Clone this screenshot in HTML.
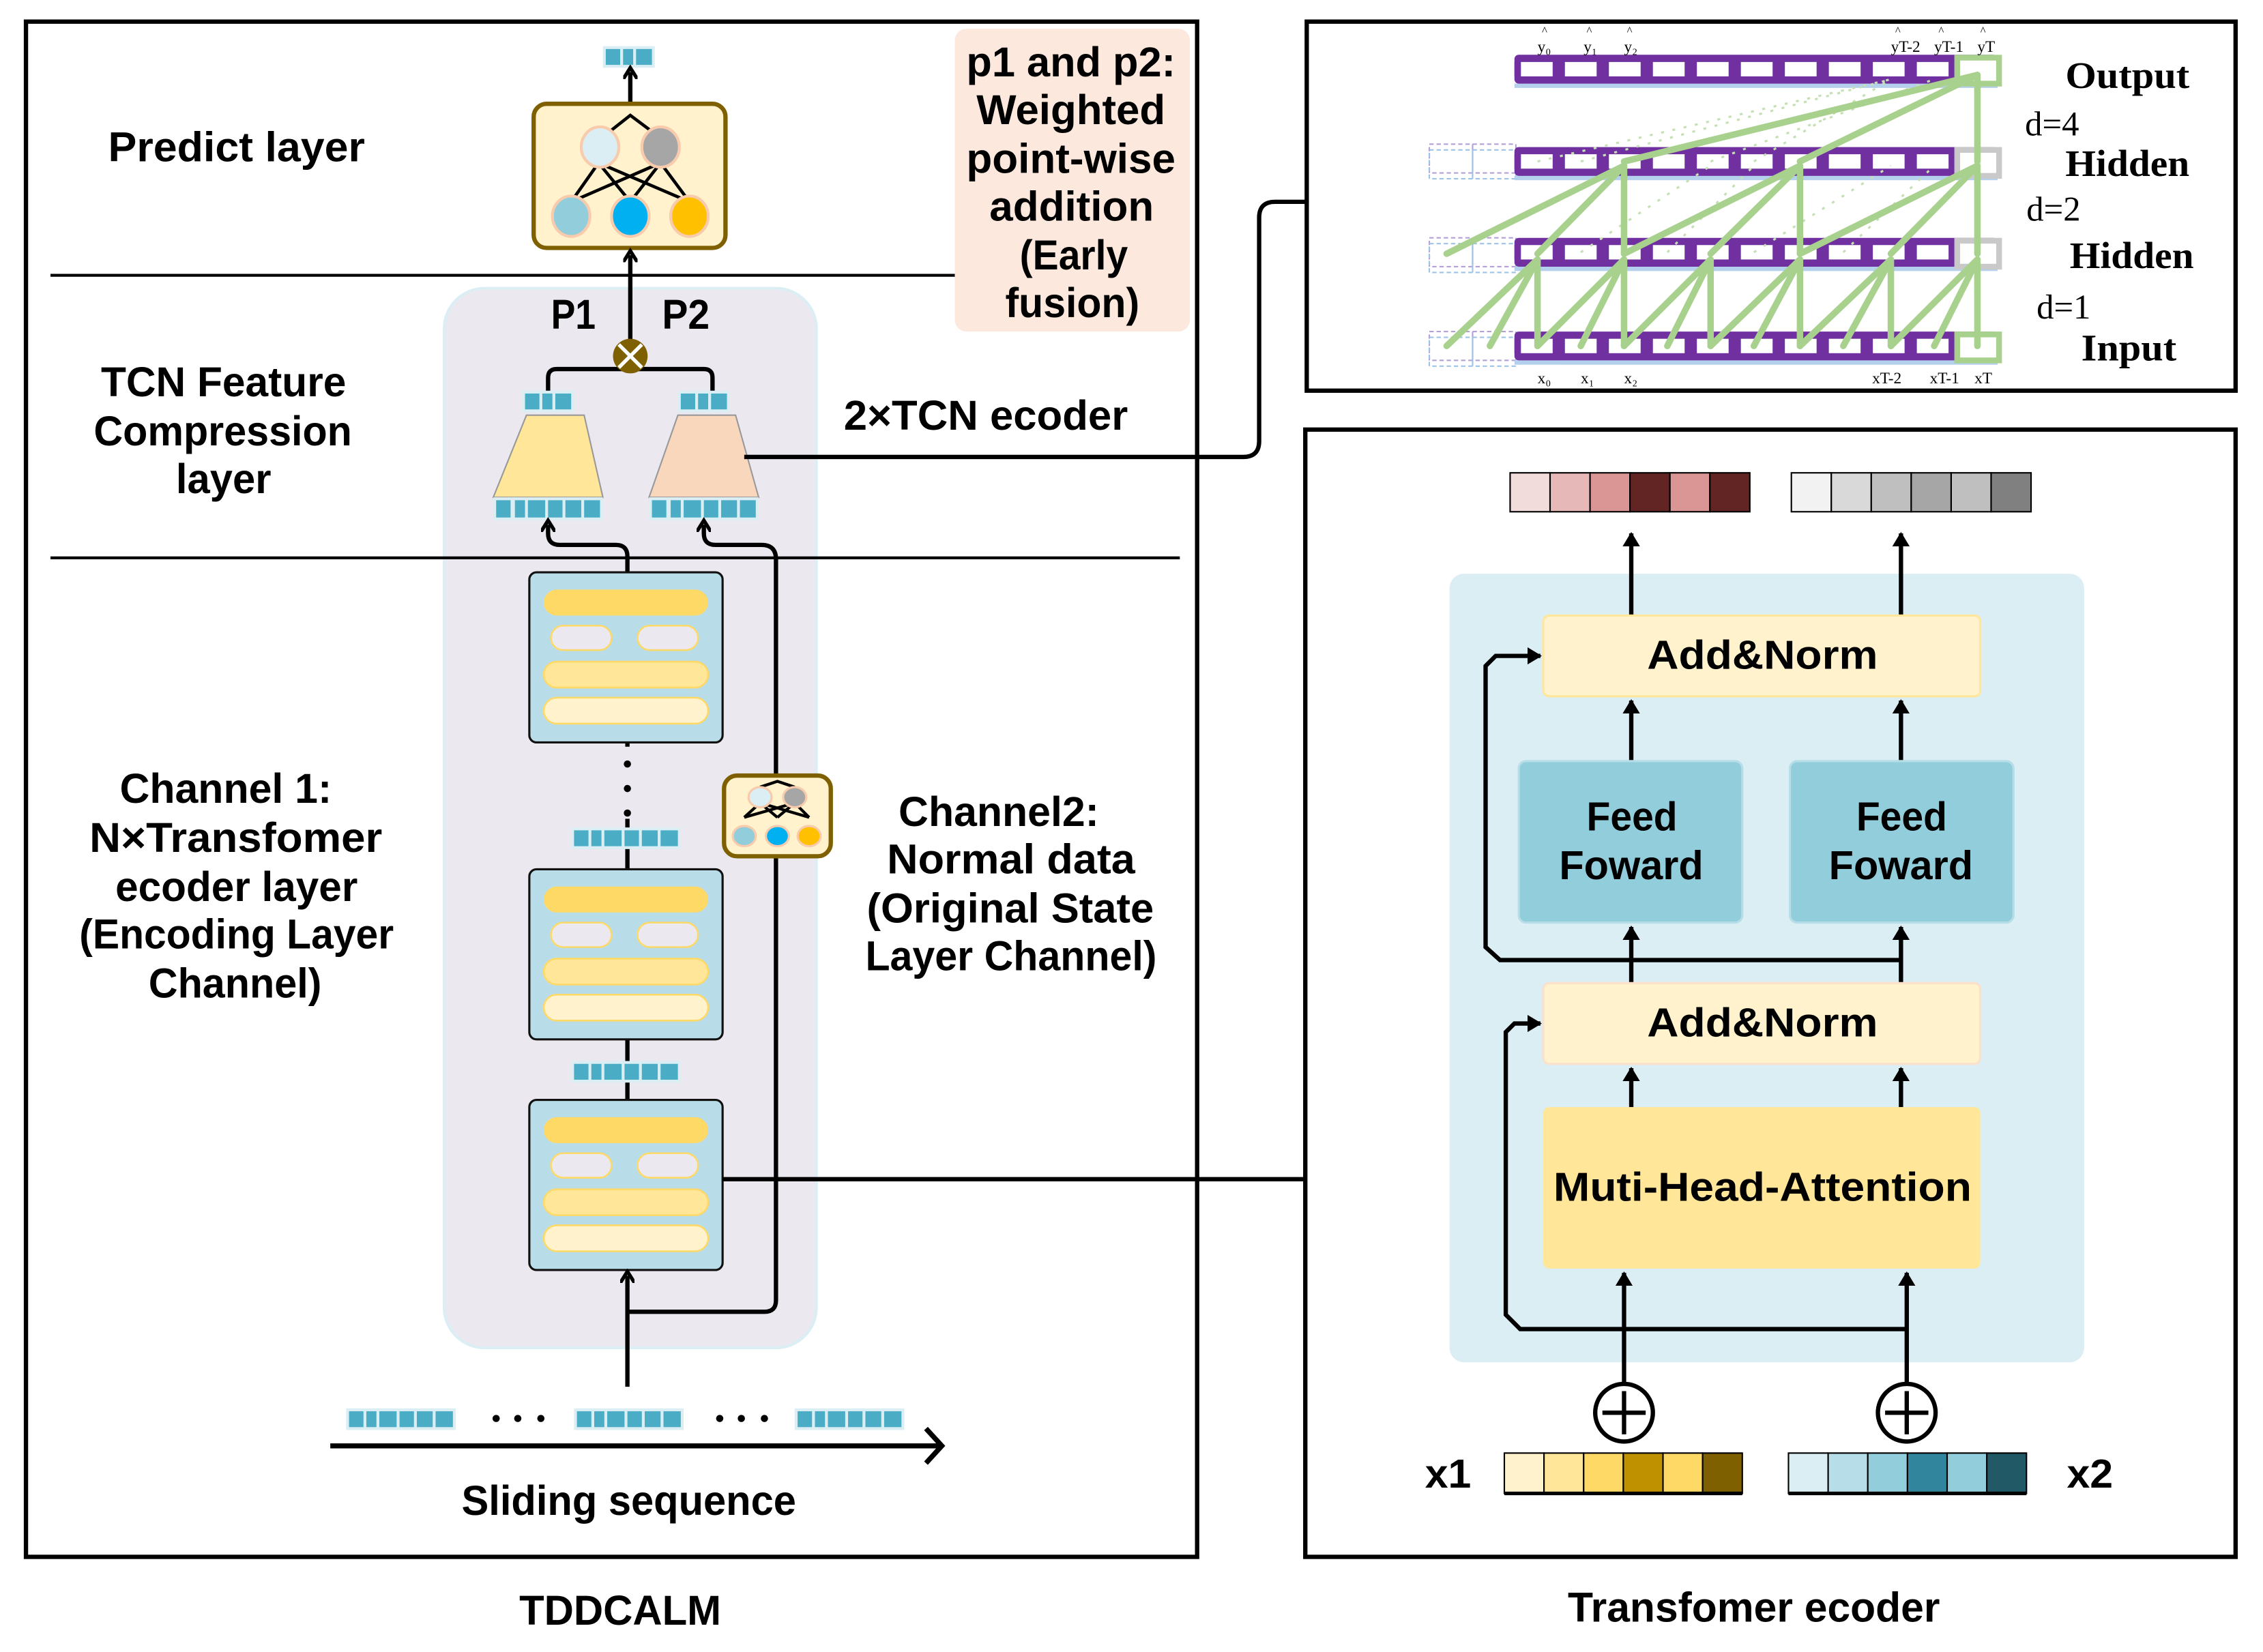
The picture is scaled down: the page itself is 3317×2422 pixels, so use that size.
<!DOCTYPE html>
<html><head><meta charset="utf-8"><style>html,body{margin:0;padding:0;background:#fff}svg{display:block}</style></head>
<body>
<svg width="3317" height="2422" viewBox="0 0 1569 1146" preserveAspectRatio="none" xmlns="http://www.w3.org/2000/svg" font-family="Liberation Sans, sans-serif" font-weight="bold">
<defs>
<marker id="ah" markerWidth="10" markerHeight="10" refX="5" refY="5" orient="auto" markerUnits="userSpaceOnUse"><path d="M0,0 L8,5 L0,10" fill="none" stroke="#000" stroke-width="2.5"/></marker>
<marker id="at" markerWidth="12" markerHeight="12" refX="9" refY="6" orient="auto" markerUnits="userSpaceOnUse"><path d="M0,0 L10,6 L0,12 Z" fill="#000"/></marker>
<pattern id="cells" x="1050" y="0" width="30.5" height="300" patternUnits="userSpaceOnUse"><rect width="30.5" height="300" fill="#7030a0"/><rect x="4.5" width="22" height="300" fill="#fff"/></pattern>
<g id="enc">
<rect x="0" y="0" width="134" height="118" rx="5" fill="#b8dde8" stroke="#111" stroke-width="1.5"/>
<rect x="10" y="12" width="114" height="18" rx="9" fill="#ffd966"/>
<rect x="15" y="37" width="42" height="17" rx="8.5" fill="#ebe8f0" stroke="#ffd966" stroke-width="1.2"/>
<rect x="75" y="37" width="42" height="17" rx="8.5" fill="#ebe8f0" stroke="#ffd966" stroke-width="1.2"/>
<rect x="10" y="62" width="114" height="18" rx="9" fill="#ffe699" stroke="#ffd966" stroke-width="1.2"/>
<rect x="10" y="87" width="114" height="18" rx="9" fill="#fff2cc" stroke="#ffd966" stroke-width="1.2"/>
</g>
<g id="blk6">
<rect x="0" y="0" width="76" height="15" fill="#dbeef4"/>
<rect x="2" y="2" width="10" height="11" fill="#4bacc6"/><rect x="14" y="2" width="7" height="11" fill="#4bacc6"/><rect x="23" y="2" width="12" height="11" fill="#4bacc6"/><rect x="37" y="2" width="10" height="11" fill="#4bacc6"/><rect x="49" y="2" width="11" height="11" fill="#4bacc6"/><rect x="62" y="2" width="12" height="11" fill="#4bacc6"/>
</g>
<g id="blk3">
<rect x="0" y="0" width="36" height="15" fill="#dbeef4"/>
<rect x="2" y="2" width="10" height="11" fill="#4bacc6"/><rect x="14" y="2" width="7" height="11" fill="#4bacc6"/><rect x="23" y="2" width="11" height="11" fill="#4bacc6"/>
</g>
</defs>

<!-- LEFT PANEL -->
<rect x="18" y="15" width="812" height="1065" fill="#fff" stroke="#000" stroke-width="3"/>
<rect x="308" y="200" width="258" height="735" rx="28" fill="#ebe8f0" stroke="#dbeef4" stroke-width="2"/>
<line x1="35" y1="191" x2="662" y2="191" stroke="#000" stroke-width="2"/>
<line x1="35" y1="387" x2="818" y2="387" stroke="#000" stroke-width="2"/>
<rect x="662" y="20" width="163" height="210" rx="8" fill="#fce8dc"/>
<g font-size="29" text-anchor="start">
<text x="670" y="53" textLength="145" lengthAdjust="spacingAndGlyphs">p1 and p2:</text>
<text x="677" y="86" textLength="131" lengthAdjust="spacingAndGlyphs">Weighted</text>
<text x="670" y="120" textLength="145" lengthAdjust="spacingAndGlyphs">point-wise</text>
<text x="686" y="153" textLength="114" lengthAdjust="spacingAndGlyphs">addition</text>
<text x="707" y="187" textLength="75" lengthAdjust="spacingAndGlyphs">(Early</text>
<text x="697" y="220" textLength="93" lengthAdjust="spacingAndGlyphs">fusion)</text>
<text x="75" y="112" textLength="178" lengthAdjust="spacingAndGlyphs">Predict  layer</text>
<text x="70" y="275" textLength="170" lengthAdjust="spacingAndGlyphs">TCN Feature</text>
<text x="65" y="309" textLength="179" lengthAdjust="spacingAndGlyphs">Compression</text>
<text x="122" y="342" textLength="66" lengthAdjust="spacingAndGlyphs">layer</text>
<text x="585" y="298" textLength="197" lengthAdjust="spacingAndGlyphs">2×TCN ecoder</text>
<text x="382" y="228" textLength="31" lengthAdjust="spacingAndGlyphs">P1</text>
<text x="459" y="228" textLength="33" lengthAdjust="spacingAndGlyphs">P2</text>
<text x="83" y="557" textLength="147" lengthAdjust="spacingAndGlyphs">Channel 1:</text>
<text x="62" y="591" textLength="203" lengthAdjust="spacingAndGlyphs">N×Transfomer</text>
<text x="80" y="625" textLength="168" lengthAdjust="spacingAndGlyphs">ecoder layer</text>
<text x="55" y="658" textLength="218" lengthAdjust="spacingAndGlyphs">(Encoding Layer</text>
<text x="103" y="692" textLength="120" lengthAdjust="spacingAndGlyphs">Channel)</text>
<text x="623" y="573" textLength="139" lengthAdjust="spacingAndGlyphs">Channel2:</text>
<text x="615" y="606" textLength="172" lengthAdjust="spacingAndGlyphs">Normal data</text>
<text x="601" y="640" textLength="199" lengthAdjust="spacingAndGlyphs">(Original State</text>
<text x="600" y="673" textLength="202" lengthAdjust="spacingAndGlyphs">Layer Channel)</text>
<text x="320" y="1051" textLength="232" lengthAdjust="spacingAndGlyphs">Sliding sequence</text>
<text x="360" y="1127" textLength="140" lengthAdjust="spacingAndGlyphs">TDDCALM</text>
<text x="1087" y="1125" textLength="258" lengthAdjust="spacingAndGlyphs">Transfomer ecoder</text>
</g>

<use href="#blk3" x="418" y="32"/>
<line x1="437" y1="72" x2="437" y2="50" stroke="#000" stroke-width="3" marker-end="url(#ah)"/>
<rect x="370" y="72" width="133" height="100" rx="9" fill="#fff2cc" stroke="#7f6000" stroke-width="3"/>
<g stroke="#000" stroke-width="2.2" fill="none">
<path d="M418,95 L437,80 L457,95"/>
<path d="M415,113 L396,140 M415,113 L437,140 M415,113 L478,140 M458,113 L396,140 M458,113 L437,140 M458,113 L478,140"/>
</g>
<ellipse cx="416" cy="102" rx="13" ry="14" fill="#daeef3" stroke="#f8cbad" stroke-width="2"/>
<ellipse cx="458" cy="102" rx="13" ry="14" fill="#a6a6a6" stroke="#f8cbad" stroke-width="2"/>
<ellipse cx="396" cy="150" rx="13" ry="14" fill="#92cddc" stroke="#f8cbad" stroke-width="2"/>
<ellipse cx="437" cy="150" rx="13" ry="14" fill="#00b0f0" stroke="#f8cbad" stroke-width="2"/>
<ellipse cx="478" cy="150" rx="13" ry="14" fill="#ffc000" stroke="#f8cbad" stroke-width="2"/>

<line x1="437" y1="236" x2="437" y2="177" stroke="#000" stroke-width="3" marker-end="url(#ah)"/>
<path d="M380,272 V262 Q380,256 386,256 H488 Q494,256 494,262 V272" fill="none" stroke="#000" stroke-width="3"/>
<circle cx="437" cy="247" r="12" fill="#7f6000"/>
<path d="M429,239 L445,255 M445,239 L429,255" stroke="#fff" stroke-width="2.5"/>

<use href="#blk3" x="362" y="271"/>
<use href="#blk3" x="470" y="271"/>
<polygon points="365,288 405,288 418,345 342,345" fill="#ffe699" stroke="#999" stroke-width="1"/>
<polygon points="470,288 510,288 526,345 450,345" fill="#f8d7bd" stroke="#999" stroke-width="1"/>
<rect x="342" y="345" width="76" height="16" fill="#dbeef4"/>
<rect x="450" y="345" width="76" height="16" fill="#dbeef4"/>
<g fill="#4bacc6">
<rect x="344" y="347" width="10" height="12"/><rect x="357" y="347" width="7" height="12"/><rect x="366" y="347" width="12" height="12"/><rect x="380" y="347" width="10" height="12"/><rect x="392" y="347" width="11" height="12"/><rect x="405" y="347" width="11" height="12"/>
<rect x="452" y="347" width="10" height="12"/><rect x="465" y="347" width="7" height="12"/><rect x="474" y="347" width="12" height="12"/><rect x="488" y="347" width="10" height="12"/><rect x="500" y="347" width="11" height="12"/><rect x="513" y="347" width="11" height="12"/>
</g>
<path d="M516,317 H862 Q873,317 873,306 V151 Q873,140 884,140 H906" fill="none" stroke="#000" stroke-width="3"/>

<path d="M435,397 V386 Q435,378 427,378 H388 Q380,378 380,370 V364" fill="none" stroke="#000" stroke-width="3" marker-end="url(#ah)"/>
<path d="M435,910 H530 Q538,910 538,902 V388 Q538,378 528,378 H496 Q488,378 488,370 V364" fill="none" stroke="#000" stroke-width="3" marker-end="url(#ah)"/>
<line x1="435" y1="515" x2="435" y2="603" stroke="#000" stroke-width="3"/>
<line x1="435" y1="721" x2="435" y2="763" stroke="#000" stroke-width="3"/>
<use href="#enc" x="367" y="397"/>
<use href="#enc" x="367" y="603"/>
<use href="#enc" x="367" y="763"/>
<rect x="410" y="518" width="50" height="50" fill="#ebe8f0"/>
<circle cx="435" cy="530" r="2.5" fill="#000"/><circle cx="435" cy="547" r="2.5" fill="#000"/><circle cx="435" cy="564" r="2.5" fill="#000"/>
<use href="#blk6" x="396" y="574"/>
<use href="#blk6" x="396" y="736"/>
<line x1="435" y1="962" x2="435" y2="885" stroke="#000" stroke-width="3" marker-end="url(#ah)"/>

<rect x="502" y="538" width="74" height="56" rx="9" fill="#fff2cc" stroke="#7f6000" stroke-width="3"/>
<g stroke="#000" stroke-width="2" fill="none"><path d="M527,546 L539,542 L551,546 M527,557 L516,567 M527,557 L539,567 M527,557 L561,567 M551,557 L516,567 M551,557 L539,567 M551,557 L561,567"/></g>
<ellipse cx="527" cy="553" rx="8" ry="7" fill="#daeef3" stroke="#f8cbad" stroke-width="1.5"/>
<ellipse cx="551" cy="553" rx="8" ry="7" fill="#a6a6a6" stroke="#f8cbad" stroke-width="1.5"/>
<ellipse cx="516" cy="580" rx="8" ry="7" fill="#92cddc" stroke="#f8cbad" stroke-width="1.5"/>
<ellipse cx="539" cy="580" rx="8" ry="7" fill="#00b0f0" stroke="#f8cbad" stroke-width="1.5"/>
<ellipse cx="561" cy="580" rx="8" ry="7" fill="#ffc000" stroke="#f8cbad" stroke-width="1.5"/>

<path d="M501,818 H944 Q954,818 954,808 V657 Q954,647 964,647 H1005" fill="none" stroke="#000" stroke-width="3"/>

<use href="#blk6" x="240" y="977"/>
<use href="#blk6" x="398" y="977"/>
<use href="#blk6" x="551" y="977"/>
<g fill="#000"><circle cx="344" cy="984" r="2.5"/><circle cx="359" cy="984" r="2.5"/><circle cx="375" cy="984" r="2.5"/><circle cx="499" cy="984" r="2.5"/><circle cx="514" cy="984" r="2.5"/><circle cx="530" cy="984" r="2.5"/></g>
<line x1="229" y1="1003" x2="652" y2="1003" stroke="#000" stroke-width="3.5"/>
<path d="M642,991 L653,1003 L642,1015" fill="none" stroke="#000" stroke-width="3.5"/>

<!-- TCN PANEL -->
<rect x="906" y="15" width="644" height="256" fill="#fff" stroke="#000" stroke-width="3"/>
<g fill="none" stroke-width="1" stroke-dasharray="3,2">
<rect x="991" y="100" width="30" height="20" stroke="#b4a0d8"/><rect x="1021" y="100" width="30" height="20" stroke="#b4a0d8"/>
<rect x="991" y="104" width="30" height="20" stroke="#9dc3e6"/><rect x="1021" y="104" width="30" height="20" stroke="#9dc3e6"/>
<rect x="991" y="165" width="30" height="20" stroke="#b4a0d8"/><rect x="1021" y="165" width="30" height="20" stroke="#b4a0d8"/>
<rect x="991" y="169" width="30" height="20" stroke="#9dc3e6"/><rect x="1021" y="169" width="30" height="20" stroke="#9dc3e6"/>
<rect x="991" y="230" width="30" height="20" stroke="#b4a0d8"/><rect x="1021" y="230" width="30" height="20" stroke="#b4a0d8"/>
<rect x="991" y="234" width="30" height="20" stroke="#9dc3e6"/><rect x="1021" y="234" width="30" height="20" stroke="#9dc3e6"/>
</g>
<g>
<rect x="1050" y="58" width="335" height="3" fill="#b4d0ec"/>
<rect x="1050" y="38" width="335" height="20" rx="3" fill="#7030a0"/>
<rect x="1050" y="43" width="335" height="10" fill="url(#cells)"/>
<rect x="1050" y="122" width="335" height="3" fill="#b4d0ec"/>
<rect x="1050" y="102" width="335" height="20" rx="3" fill="#7030a0"/>
<rect x="1050" y="107" width="335" height="10" fill="url(#cells)"/>
<rect x="1050" y="185" width="335" height="3" fill="#b4d0ec"/>
<rect x="1050" y="165" width="335" height="20" rx="3" fill="#7030a0"/>
<rect x="1050" y="170" width="335" height="10" fill="url(#cells)"/>
<rect x="1050" y="250" width="335" height="3" fill="#b4d0ec"/>
<rect x="1050" y="230" width="335" height="20" rx="3" fill="#7030a0"/>
<rect x="1050" y="235" width="335" height="10" fill="url(#cells)"/>
<rect x="1357" y="40" width="29" height="18" fill="#fff" stroke="#a9d18e" stroke-width="4"/>
<rect x="1357" y="104" width="29" height="18" fill="#fff" stroke="#c9c9c9" stroke-width="4"/>
<rect x="1357" y="167" width="29" height="18" fill="#fff" stroke="#c9c9c9" stroke-width="4"/>
<rect x="1357" y="232" width="29" height="18" fill="#fff" stroke="#a9d18e" stroke-width="4"/>
</g>
<g stroke="#c5e0b4" stroke-width="1.5" stroke-dasharray="2,6" fill="none">
<path d="M1066,112 L1311,55 M1096,112 L1311,55 M1186,112 L1341,55 M1216,112 L1311,55 M1096,175 L1186,115 M1156,175 L1216,115 M1216,175 L1311,115 M1278,175 L1341,115"/>
</g>
<g stroke="#a9d18e" stroke-width="4.5" stroke-linecap="round" fill="none">
<path d="M1003,240 L1066,180 M1033,240 L1066,180 M1066,240 L1066,180"/>
<path d="M1096,240 L1126,180 M1126,240 L1126,180 M1066,240 L1126,180"/>
<path d="M1156,240 L1186,180 M1186,240 L1186,180 M1126,240 L1186,180"/>
<path d="M1216,240 L1248,180 M1248,240 L1248,180 M1186,240 L1248,180"/>
<path d="M1278,240 L1311,180 M1311,240 L1311,180 M1248,240 L1311,180"/>
<path d="M1341,240 L1371,180 M1371,240 L1371,180 M1311,240 L1371,180"/>
<path d="M1003,176 L1126,115 M1066,176 L1126,115 M1126,176 L1126,115"/>
<path d="M1126,176 L1248,115 M1186,176 L1248,115 M1248,176 L1248,115"/>
<path d="M1248,176 L1371,115 M1311,176 L1371,115 M1371,176 L1371,115"/>
<path d="M1126,112 L1371,52 M1248,112 L1371,52 M1371,112 L1371,52"/>
</g>
<g font-family="Liberation Serif, serif" font-weight="bold">
<g font-size="26">
<text x="1432" y="61" textLength="86" lengthAdjust="spacingAndGlyphs">Output</text>
<text x="1432" y="122" textLength="86" lengthAdjust="spacingAndGlyphs">Hidden</text>
<text x="1435" y="186" textLength="86" lengthAdjust="spacingAndGlyphs">Hidden</text>
<text x="1443" y="250" textLength="66" lengthAdjust="spacingAndGlyphs">Input</text>
</g>
<g font-size="24" font-weight="normal">
<text x="1404" y="94">d=4</text>
<text x="1405" y="153">d=2</text>
<text x="1412" y="221">d=1</text>
</g>
<g font-size="11" font-weight="normal">
<text x="1066" y="36">y₀</text><text x="1098" y="36">y₁</text><text x="1126" y="36">y₂</text>
<text x="1311" y="36">yT-2</text><text x="1341" y="36">yT-1</text><text x="1371" y="36">yT</text>
<text x="1069" y="24" font-size="8">^</text><text x="1100" y="24" font-size="8">^</text><text x="1128" y="24" font-size="8">^</text>
<text x="1314" y="24" font-size="8">^</text><text x="1344" y="24" font-size="8">^</text><text x="1373" y="24" font-size="8">^</text>
<text x="1066" y="266">x₀</text><text x="1096" y="266">x₁</text><text x="1126" y="266">x₂</text>
<text x="1298" y="266">xT-2</text><text x="1338" y="266">xT-1</text><text x="1369" y="266">xT</text>
</g>
</g>

<!-- TRANSFORMER PANEL -->
<rect x="905" y="298" width="645" height="782" fill="#fff" stroke="#000" stroke-width="3"/>
<rect x="1005" y="398" width="440" height="547" rx="10" fill="#dbeef4"/>
<g stroke="#000" stroke-width="1">
<rect x="1047" y="328" width="27.7" height="27" fill="#f2dcdb"/><rect x="1074.7" y="328" width="27.7" height="27" fill="#e6b9b8"/><rect x="1102.4" y="328" width="27.7" height="27" fill="#d99694"/><rect x="1130.1" y="328" width="27.7" height="27" fill="#632523"/><rect x="1157.8" y="328" width="27.7" height="27" fill="#d99694"/><rect x="1185.5" y="328" width="27.7" height="27" fill="#632523"/>
<rect x="1242" y="328" width="27.7" height="27" fill="#f2f2f2"/><rect x="1269.7" y="328" width="27.7" height="27" fill="#d9d9d9"/><rect x="1297.4" y="328" width="27.7" height="27" fill="#bfbfbf"/><rect x="1325.1" y="328" width="27.7" height="27" fill="#a6a6a6"/><rect x="1352.8" y="328" width="27.7" height="27" fill="#bfbfbf"/><rect x="1380.5" y="328" width="27.7" height="27" fill="#808080"/>
</g>
<g stroke="#000" stroke-width="3">
<line x1="1131" y1="427" x2="1131" y2="370" marker-end="url(#at)"/>
<line x1="1318" y1="427" x2="1318" y2="370" marker-end="url(#at)"/>
<line x1="1131" y1="528" x2="1131" y2="486" marker-end="url(#at)"/>
<line x1="1318" y1="528" x2="1318" y2="486" marker-end="url(#at)"/>
<line x1="1131" y1="682" x2="1131" y2="643" marker-end="url(#at)"/>
<line x1="1318" y1="682" x2="1318" y2="643" marker-end="url(#at)"/>
<line x1="1131" y1="768" x2="1131" y2="741" marker-end="url(#at)"/>
<line x1="1318" y1="768" x2="1318" y2="741" marker-end="url(#at)"/>
<line x1="1126" y1="960" x2="1126" y2="883" marker-end="url(#at)"/>
<line x1="1322" y1="960" x2="1322" y2="883" marker-end="url(#at)"/>
<path d="M1318,666 H1040 L1030,657 V462 L1037,455 H1068" fill="none" marker-end="url(#at)"/>
<path d="M1322,922 H1054 L1044,912 V716 L1050,710 H1068" fill="none" marker-end="url(#at)"/>
</g>
<rect x="1070" y="427" width="303" height="56" rx="4" fill="#fff2cc" stroke="#ffe699" stroke-width="1.5"/>
<rect x="1070" y="682" width="303" height="56" rx="4" fill="#fff2cc" stroke="#fbe0cc" stroke-width="1.5"/>
<rect x="1053" y="528" width="155" height="112" rx="5" fill="#92cddc" stroke="#b7dee8" stroke-width="1.5"/>
<rect x="1241" y="528" width="155" height="112" rx="5" fill="#92cddc" stroke="#b7dee8" stroke-width="1.5"/>
<rect x="1070" y="768" width="303" height="112" rx="4" fill="#ffe699"/>
<g font-size="28">
<text x="1142" y="464" textLength="160" lengthAdjust="spacingAndGlyphs">Add&amp;Norm</text>
<text x="1142" y="719" textLength="160" lengthAdjust="spacingAndGlyphs">Add&amp;Norm</text>
<text x="1100" y="576" textLength="63" lengthAdjust="spacingAndGlyphs">Feed</text>
<text x="1081" y="610" textLength="100" lengthAdjust="spacingAndGlyphs">Foward</text>
<text x="1287" y="576" textLength="63" lengthAdjust="spacingAndGlyphs">Feed</text>
<text x="1268" y="610" textLength="100" lengthAdjust="spacingAndGlyphs">Foward</text>
<text x="1077" y="833" textLength="290" lengthAdjust="spacingAndGlyphs">Muti-Head-Attention</text>
<text x="988" y="1032" textLength="32" lengthAdjust="spacingAndGlyphs">x1</text>
<text x="1433" y="1032" textLength="32" lengthAdjust="spacingAndGlyphs">x2</text>
</g>
<g stroke="#000" stroke-width="3" fill="#fff">
<circle cx="1126" cy="980" r="20"/><circle cx="1322" cy="980" r="20"/>
</g>
<path d="M1126,965 V995 M1111,980 H1141 M1322,965 V995 M1307,980 H1337" stroke="#000" stroke-width="3"/>
<g stroke="#000" stroke-width="1">
<rect x="1043" y="1008" width="27.5" height="28" fill="#fff2cc"/><rect x="1070.5" y="1008" width="27.5" height="28" fill="#ffe699"/><rect x="1098" y="1008" width="27.5" height="28" fill="#ffd966"/><rect x="1125.5" y="1008" width="27.5" height="28" fill="#bf9000"/><rect x="1153" y="1008" width="27.5" height="28" fill="#ffd966"/><rect x="1180.5" y="1008" width="27.5" height="28" fill="#7f6000"/>
<rect x="1240" y="1008" width="27.5" height="28" fill="#daeef3"/><rect x="1267.5" y="1008" width="27.5" height="28" fill="#b7dee8"/><rect x="1295" y="1008" width="27.5" height="28" fill="#92cddc"/><rect x="1322.5" y="1008" width="27.5" height="28" fill="#31859c"/><rect x="1350" y="1008" width="27.5" height="28" fill="#92cddc"/><rect x="1377.5" y="1008" width="27.5" height="28" fill="#215967"/>
</g>
<line x1="1043" y1="1036" x2="1208" y2="1036" stroke="#000" stroke-width="2.5"/>
<line x1="1240" y1="1036" x2="1405" y2="1036" stroke="#000" stroke-width="2.5"/>
</svg>
</body></html>
